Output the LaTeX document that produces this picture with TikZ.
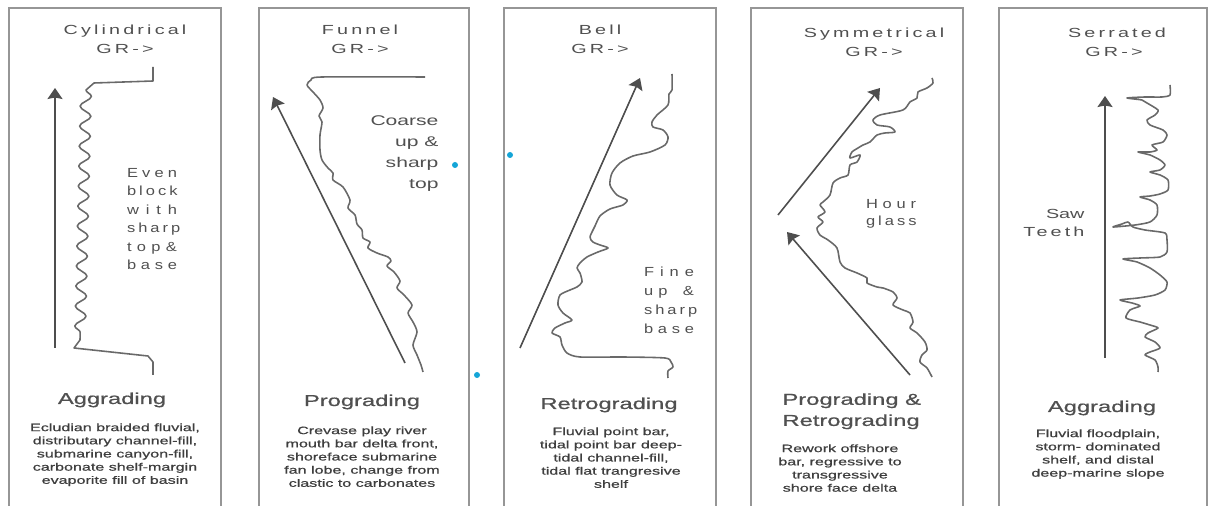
\documentclass[tikz,border=0pt]{standalone}
\usepackage{fontspec}
\setmainfont{Liberation Sans}
\newfontfamily\spacedfont[LetterSpace=16]{Liberation Sans}
\newfontfamily\boldishfont[FakeBold=0.6]{Liberation Sans}
\usetikzlibrary{
	arrows.meta,
	decorations.pathmorphing,
	calc
}

\definecolor{boxgray}{RGB}{150,150,150}
\definecolor{loggray}{RGB}{105,105,105}
\definecolor{arrowgray}{RGB}{78,78,78}
\definecolor{labelgray}{RGB}{80,80,80}
\definecolor{descgray}{RGB}{62,62,62}
\definecolor{dotblue}{RGB}{20,165,215}

\newcommand{\spreadline}[1]{\makebox[0.8cm][s]{#1}}

\tikzset{
	panel/.style={draw=boxgray, line width=0.9pt},
	logline/.style={draw=loggray, line width=0.9pt, line join=round},
	trend/.style={draw=arrowgray, line width=0.9pt, ->, >={Stealth[length=0.22cm,width=0.3cm,inset=0.03cm]}},
	title/.style={font=\fontsize{7.5}{9}\selectfont\spacedfont, text=labelgray, inner sep=0pt, anchor=base, xscale=1.5},
	motion/.style={font=\fontsize{9}{12}\selectfont\boldishfont, text=labelgray, inner sep=0pt, xscale=1.5},
	remark/.style={font=\fontsize{7.5}{10.5}\selectfont, text=labelgray, inner sep=0pt, align=center, xscale=1.25},
	note/.style={font=\fontsize{8}{12.1}\selectfont, text=labelgray, inner sep=0pt, align=right, xscale=1.5},
	desc/.style={font=\fontsize{6.1}{7.5}\selectfont\boldishfont, text=descgray, inner sep=0pt, align=center, anchor=north, xscale=1.5}
}

\begin{document}
\begin{tikzpicture}[x=0.02cm, y=-0.02cm]
    \useasboundingbox (0,0) rectangle (1211,506);
    \clip (0,0) rectangle (1211,506);
    % Definitions
    \coordinate (cylBase)    at (55,348);
    \coordinate (cylTip)     at (55,88);
    \coordinate (funBase)    at (405,363);
    \coordinate (funTip)     at (273,97);
    \coordinate (bellBase)   at (520,348);
    \coordinate (bellTip)    at (640,78);
    \coordinate (symUpBase)  at (778,215);
    \coordinate (symUpTip)   at (880,88);
    \coordinate (symLowBase) at (910,375);
    \coordinate (symLowTip)  at (787,232);
    \coordinate (serBase)    at (1105,358);
    \coordinate (serTip)     at (1105,96);
    % Panels
    \draw[panel] (9,8)    rectangle (221,520);
    \draw[panel] (259,8)  rectangle (469,520);
    \draw[panel] (504,8)  rectangle (716,520);
    \draw[panel] (751,8)  rectangle (963,520);
    \draw[panel] (999,8)  rectangle (1207,520);
    % Titles
    \node[title] (cylName) at (125,35)  {Cylindrical};
    \node[title] (cylGR)   at (125,54)  {GR->};
    \node[title] (funName) at (360,35)  {Funnel};
    \node[title] (funGR)   at (360,54)  {GR->};
    \node[title] (bellName) at (600,35) {Bell};
    \node[title] (bellGR)   at (600,54) {GR->};
    \node[title] (symName) at (874,38)  {Symmetrical};
    \node[title] (symGR)   at (874,57)  {GR->};
    \node[title] (serName) at (1117,38) {Serrated};
    \node[title] (serGR)   at (1114,57) {GR->};
    % Trend arrows
    \draw[trend] (cylBase)    -- (cylTip);
    \draw[trend] (funBase)    -- (funTip);
    \draw[trend] (bellBase)   -- (bellTip);
    \draw[trend] (symUpBase)  -- (symUpTip);
    \draw[trend] (symLowBase) -- (symLowTip);
    \draw[trend] (serBase)    -- (serTip);
    % Log curves
    \draw[logline] (153,67) -- (153,81) -- (94,83) -- (86,90)
        decorate[decoration={snake, amplitude=0.11cm, segment length=0.4cm}] {-- (80,340)}
        -- (74,348) -- (148,356) -- (153,362) -- (153,375);
    \draw[logline] plot[smooth, tension=0.45] coordinates {(425,77) (322,77) (311,80) (307,85) (313,92)
        (320,100) (323,108) (319,116) (322,122) (320,135) (320,150) (322,160) (328,168) (333,173)
        (333,180) (343,187) (350,200) (348,208) (355,215) (357,224) (362,230) (363,238) (370,242)
        (368,248) (377,253) (388,257) (391,261) (387,266) (394,272) (400,281) (397,288) (404,295)
        (412,305) (408,313) (413,322) (417,332) (413,345) (417,355) (421,365) (423,372)};
    \draw[logline] plot[smooth, tension=0.45] coordinates {(672,74) (672,90) (669,94) (668,105)
        (657,115) (652,122) (653,127) (663,130) (668,137) (665,145) (650,152) (633,156) (620,163)
        (612,173) (610,185) (617,195) (627,200) (623,205) (610,209) (600,216) (595,226) (590,237)
        (593,242) (600,245) (608,248) (598,252) (587,257) (580,263) (577,268) (580,273) (582,282)
        (577,287) (570,290) (560,295) (558,305) (563,313) (572,320) (565,323) (555,328) (552,333)
        (560,337) (562,345) (567,353) (580,357) (623,357) (665,358) (671,362) (673,367) (668,371)
        (668,378)};
    \draw[logline] plot[smooth, tension=0.45] coordinates {(932,78) (933,83) (927,88) (918,92)
        (917,98) (910,102) (903,110) (880,115) (873,120) (877,125) (890,127) (895,132) (885,133)
        (877,135) (870,142) (863,145) (858,148) (852,152) (850,158) (860,155) (857,162) (850,165)
        (848,175) (840,178) (833,183) (830,195) (823,202) (820,205) (825,212) (818,217) (823,222)
        (817,228) (820,235) (828,240) (837,248) (840,262) (845,268) (857,273) (867,278) (867,283)
        (877,287) (883,288) (893,292) (897,298) (893,305) (903,310) (910,313) (913,322) (910,328)
        (917,333) (925,342) (927,350) (922,355) (920,362) (927,368) (932,377)};
    \draw[logline] plot[smooth, tension=0.4] coordinates {(1170,85) (1170,95) (1162,97) (1145,97)
        (1127,98) (1142,100) (1147,103) (1158,110) (1155,115) (1147,120) (1150,125) (1163,130)
        (1167,135) (1163,142) (1152,145) (1157,150) (1150,152) (1138,152) (1150,155) (1160,160)
        (1165,165) (1160,170) (1150,172) (1160,175) (1168,180) (1168,190) (1160,194) (1150,196)
        (1140,197) (1150,200) (1157,205) (1157,215) (1150,222) (1135,225) (1113,227) (1122,224)
        (1128,222) (1133,227) (1145,230) (1165,233) (1167,240) (1167,252) (1160,257) (1140,258)
        (1123,259) (1137,262) (1150,268) (1160,275) (1167,282) (1165,290) (1155,295) (1138,298)
        (1120,300) (1132,303) (1140,306) (1130,310) (1126,318) (1140,322) (1150,325) (1158,328)
        (1148,333) (1145,337) (1155,342) (1160,348) (1150,352) (1145,355) (1155,360) (1158,367)
        (1158,372)};
    % Shape remarks
    \node[remark] (cylNote) at (152,219) {\spreadline{E v e n}\\\spreadline{b l o c k}\\\spreadline{w i t h}\\\spreadline{s h a r p}\\\spreadline{t o p \&}\\\spreadline{b a s e}};
    \node[note, anchor=north east] (funNote) at (439,115) {Coarse\\up \&\\sharp\\top};
    \node[remark, font=\fontsize{7.5}{10.8}\selectfont] (bellNote) at (669,300) {\spreadline{F i n e}\\\spreadline{u p ~ \&}\\\spreadline{s h a r p}\\\spreadline{b a s e}};
    \node[remark, font=\fontsize{7.5}{9.7}\selectfont] (symNote) at (891,214) {\spreadline{H o u r}\\\spreadline{g l a s s}};
    \node[note, font=\fontsize{7.5}{10.5}\selectfont, anchor=east] (serNote) at (1085,223) {Saw\\{\spacedfont Teeth}};
    % Motion labels
    \node[motion, anchor=base] (cylMotion) at (112,404) {Aggrading};
    \node[motion, anchor=base] (funMotion) at (362,406) {Prograding};
    \node[motion, anchor=base] (bellMotion) at (609,409) {Retrograding};
    \node[motion, align=left, anchor=north west] (symMotion) at (782,393) {Prograding \&\\Retrograding};
    \node[motion, anchor=base] (serMotion) at (1102,412) {Aggrading};
    % Settings
    \node[desc] (cylDesc) at (115,423) {Ecludian braided fluvial,\\distributary channel-fill,\\submarine canyon-fill,\\carbonate shelf-margin\\evaporite fill of basin};
    \node[desc] (funDesc) at (362,426) {Crevase play river\\mouth bar delta front,\\shoreface submarine\\fan lobe, change from\\clastic to carbonates};
    \node[desc] (bellDesc) at (611,427) {Fluvial point bar,\\tidal point bar deep-\\tidal channel-fill,\\tidal flat trangresive\\shelf};
    \node[desc] (symDesc) at (840,444) {Rework offshore\\bar, regressive to\\transgressive\\shore face delta};
    \node[desc] (serDesc) at (1098,429) {Fluvial floodplain,\\storm- dominated\\shelf, and distal\\deep-marine slope};
    % Marks
    \fill[dotblue] (455,165) circle[radius=0.06cm];
    \fill[dotblue] (510,155) circle[radius=0.06cm];
    \fill[dotblue] (477,375) circle[radius=0.06cm];
\end{tikzpicture}
\end{document}
